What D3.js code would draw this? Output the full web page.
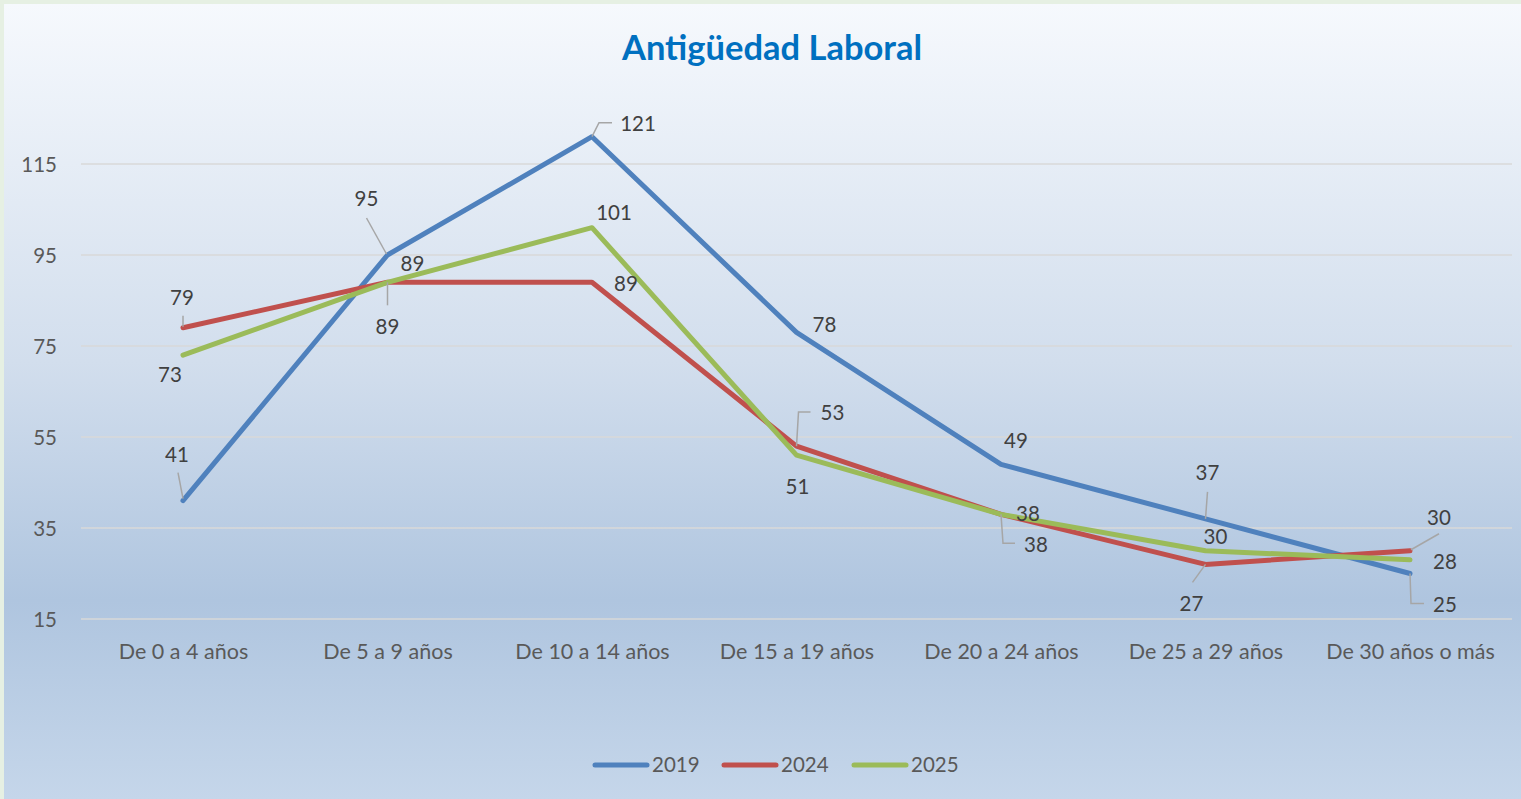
<!DOCTYPE html>
<html>
<head>
<meta charset="utf-8">
<script src="https://cdn.jsdelivr.net/npm/d3@7"></script>
<style>
  html, body { margin: 0; padding: 0; background: #e6f0e3; }
  svg { display: block; }
  text { font-family: Lato, "Open Sans", sans-serif; }
</style>
</head>
<body>
<script>
// ---- data ----
const categories = ["De 0 a 4 años", "De 5 a 9 años", "De 10 a 14 años", "De 15 a 19 años",
                    "De 20 a 24 años", "De 25 a 29 años", "De 30 años o más"];
const years = ["2019", "2024", "2025"];
const values2019 = [41, 95, 121, 78, 49, 37, 25];
const values2024 = [79, 89, 89, 53, 38, 27, 30];
const values2025 = [73, 89, 101, 51, 38, 30, 28];
const yTicks = [15, 35, 55, 75, 95, 115];
const title = "Antigüedad Laboral";

// ---- styling / label placement (not data) ----
const colors = ["#4f81bd", "#c0504d", "#9bbb59"];
const labelOffsets = [
  [[-6,-46],[-21,-56],[46,-13],[28,-8],[15,-23],[2,-46],[35,31]],
  [[-1,-30],[0,45],[34,2],[36,-33],[35,30],[-14,39],[29,-33]],
  [[-13,20],[25,-18],[22,-15],[1,32],[27,-1],[10,-14],[35,2]]
];
const leaders = [
  [[[0,-2],[-5,-28]], [[-1,-1],[-21,-37]], [[0,0],[7,-14],[20,-14]], null, null, [[0,0],[2,-27]], [[0,0],[1,30],[14,30]]],
  [[[0,-1],[0,-12]], [[0,0],[0,23]], null, [[0,0],[2,-34],[14,-34]], [[0,0],[2,29],[14,29]], [[0,0],[-13,18]], [[1,-1],[29,-17]]],
  [null, null, null, null, null, null, null]
];

const W = 1521, H = 799;
const series = [values2019, values2024, values2025];

const svg = d3.select("body").append("svg").attr("width", W).attr("height", H);

const defs = svg.append("defs");
const grad = defs.append("linearGradient").attr("id", "bg").attr("x1", 0).attr("y1", 0).attr("x2", 0).attr("y2", 1);
grad.append("stop").attr("offset", "0%").attr("stop-color", "#f6f9fd");
grad.append("stop").attr("offset", "45%").attr("stop-color", "#d2deed");
grad.append("stop").attr("offset", "75%").attr("stop-color", "#afc5df");
grad.append("stop").attr("offset", "100%").attr("stop-color", "#c5d6ea");

svg.append("rect").attr("x", 0).attr("y", 0).attr("width", W).attr("height", H).attr("fill", "#e6f0e3");
svg.append("rect").attr("x", 4).attr("y", 4).attr("width", W - 4).attr("height", H - 4).attr("fill", "url(#bg)");

// scales
const x = d3.scalePoint().domain(categories).range([183, 1410]);
const y = d3.scaleLinear().domain([15, 115]).range([619, 164]);

// gridlines
const grid = svg.append("g");
grid.selectAll("line").data(yTicks).join("line")
  .attr("x1", 81).attr("x2", 1512)
  .attr("y1", d => y(d)).attr("y2", d => y(d))
  .attr("stroke", "#d9d9d9").attr("stroke-width", 1.5);

// y axis labels
const yAxis = d3.axisLeft(y).tickValues(yTicks).tickSize(0).tickPadding(0);
const yg = svg.append("g").attr("transform", "translate(57,0)").call(yAxis);
yg.select(".domain").remove();
yg.selectAll("text").attr("font-family", "Lato, 'Open Sans', sans-serif")
  .attr("font-size", 20.5).attr("fill", "#595959").attr("dy", "0.35em");

// x axis labels
const xAxis = d3.axisBottom(x).tickSize(0).tickPadding(0);
const xg = svg.append("g").attr("transform", "translate(0,651)").call(xAxis);
xg.select(".domain").remove();
xg.selectAll("text").attr("font-family", "Lato, 'Open Sans', sans-serif")
  .attr("font-size", 21.5).attr("fill", "#595959").attr("dy", "0.35em").attr("y", 0);

// title
svg.append("text").attr("x", 772).attr("y", 60).attr("text-anchor", "middle")
  .attr("font-size", 34.5).attr("font-weight", "bold").attr("fill", "#0070c0").text(title);

// lines
const line = d3.line().x((d, i) => x(categories[i])).y(d => y(d));
series.forEach((vals, s) => {
  svg.append("path").datum(vals).attr("d", line)
    .attr("fill", "none").attr("stroke", colors[s]).attr("stroke-width", 5)
    .attr("stroke-linejoin", "round").attr("stroke-linecap", "round");
});

// leader lines
const leaderLine = d3.line();
series.forEach((vals, s) => {
  vals.forEach((v, i) => {
    const L = leaders[s][i];
    if (!L) return;
    const px = x(categories[i]), py = y(v);
    svg.append("path").attr("d", leaderLine(L.map(p => [px + p[0], py + p[1]])))
      .attr("fill", "none").attr("stroke", "#a6a6a6").attr("stroke-width", 1.5);
  });
});

// data labels
series.forEach((vals, s) => {
  svg.append("g").selectAll("text").data(vals).join("text")
    .attr("x", (d, i) => x(categories[i]) + labelOffsets[s][i][0])
    .attr("y", (d, i) => y(d) + labelOffsets[s][i][1])
    .attr("dy", "0.35em").attr("text-anchor", "middle")
    .attr("font-size", 20.5).attr("fill", "#404040").text(d => d);
});

// legend
const legendX = [593, 722, 852];
const lg = svg.append("g");
years.forEach((yr, s) => {
  lg.append("line").attr("x1", legendX[s] + 2).attr("x2", legendX[s] + 54)
    .attr("y1", 765).attr("y2", 765).attr("stroke", colors[s]).attr("stroke-width", 5)
    .attr("stroke-linecap", "round");
  lg.append("text").attr("x", legendX[s] + 59).attr("y", 765).attr("dy", "0.35em")
    .attr("font-size", 20.5).attr("fill", "#595959").text(yr);
});
</script>
</body>
</html>
